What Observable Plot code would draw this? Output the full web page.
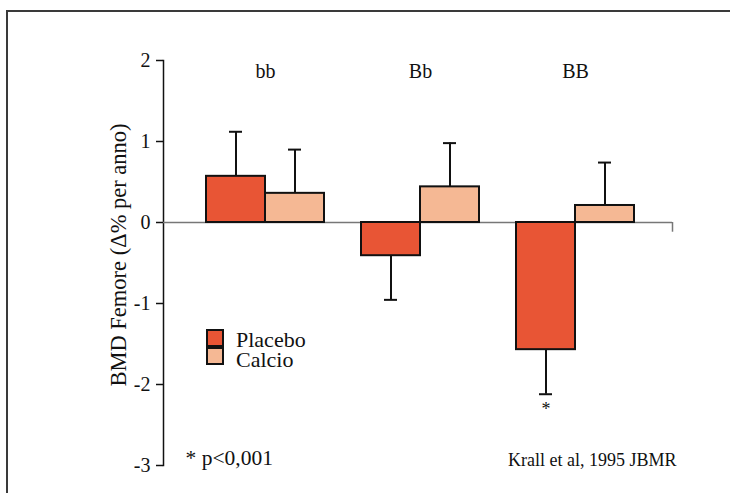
<!DOCTYPE html>
<html><head><meta charset="utf-8">
<script src="https://cdn.jsdelivr.net/npm/d3@7"></script>
<script src="https://cdn.jsdelivr.net/npm/@observablehq/plot@0.6"></script>
<style>
body{margin:0;background:#fff;}
#wrap{position:relative;width:730px;height:493px;overflow:hidden;font-family:"Liberation Serif",serif;color:#111;}
#border{position:absolute;left:6px;top:10px;width:800px;height:600px;border-top:2px solid #3a3a3a;border-left:2px solid #3a3a3a;}
#chart{position:absolute;left:0;top:0;}
#chart svg text{font-family:"Liberation Serif",serif;}
.sw{position:absolute;width:14px;height:14px;border:2px solid #111;}
.lt{position:absolute;font-size:22px;line-height:19px;white-space:nowrap;}
</style></head>
<body><div id="wrap"><div id="border"></div><div id="chart"></div><div id="legend"></div></div>
<script>
const groups = ["bb", "Bb", "BB"];
const series = ["Placebo", "Calcio"];
const placebo = [0.57, -0.41, -1.57];
const placeboErr = [1.12, -0.955, -2.12];
const calcio = [0.36, 0.44, 0.21];
const calcioErr = [0.90, 0.98, 0.74];
const significant = [false, false, true];
const yTicks = [-3, -2, -1, 0, 1, 2];
const colors = ["#e85535", "#f5b894"];
const yLabel = "BMD Femore (\u0394% per anno)";
const noteLeft = "* p<0,001";
const noteRight = "Krall et al, 1995 JBMR";

const P = groups.map((g, i) => ({group: g, value: placebo[i], err: placeboErr[i], sig: significant[i]}));
const C = groups.map((g, i) => ({group: g, value: calcio[i], err: calcioErr[i]}));
const half = 59;
const FF = "Liberation Serif, serif";

const chart = Plot.plot({
  width: 730, height: 493,
  marginLeft: 163, marginRight: 58, marginTop: 60, marginBottom: 28,
  style: {fontFamily: FF, fontSize: "20px", color: "#111", background: "transparent", overflow: "visible"},
  x: {type: "band", domain: groups, paddingInner: 0.2387, paddingOuter: 0.261, align: 0.53, axis: null},
  y: {domain: [-3, 2]},
  marks: [
    Plot.axisY({ticks: yTicks, tickSize: 7, tickPadding: 6, tickFormat: d => String(d), fontSize: 20, fontFamily: FF, label: null, stroke: "#111", strokeWidth: 1.5}),
    Plot.frame({anchor: "left", stroke: "#111", strokeWidth: 1.5}),
    Plot.ruleY([0], {stroke: "#777", strokeWidth: 1.5}),
    Plot.ruleX(["BB"], {y1: 0, y2: -0.12, dx: 97, stroke: "#777", strokeWidth: 1.5}),
    Plot.ruleX(P, {x: "group", y1: "value", y2: "err", dx: -half / 2, stroke: "#111", strokeWidth: 2}),
    Plot.ruleX(C, {x: "group", y1: "value", y2: "err", dx: half / 2, stroke: "#111", strokeWidth: 2}),
    Plot.tickY(P, {x: "group", y: "err", insetLeft: 23, insetRight: 82, stroke: "#111", strokeWidth: 2}),
    Plot.tickY(C, {x: "group", y: "err", insetLeft: 82, insetRight: 23, stroke: "#111", strokeWidth: 2}),
    Plot.barY(P, {x: "group", y: "value", fill: colors[0], stroke: "#111", strokeWidth: 2, insetRight: half}),
    Plot.barY(C, {x: "group", y: "value", fill: colors[1], stroke: "#111", strokeWidth: 2, insetLeft: half}),
    Plot.text(groups, {x: d => d, text: d => d, frameAnchor: "top", lineAnchor: "middle", dy: 11, fontSize: 20, fontFamily: FF}),
    Plot.text(P.filter(d => d.sig), {x: "group", y: "err", text: () => "*", dx: -half / 2, dy: 15, lineAnchor: "middle", fontSize: 18, fontFamily: FF}),
    Plot.text([yLabel], {text: d => d, frameAnchor: "left", textAnchor: "middle", rotate: -90, lineAnchor: "middle", dx: -45, dy: -8, fontSize: 22.5, fontFamily: FF}),
    Plot.text([noteLeft], {text: d => d, frameAnchor: "bottom-left", textAnchor: "start", lineAnchor: "middle", dx: 22, dy: -7, fontSize: 21.5, fontFamily: FF}),
    Plot.text([noteRight], {text: d => d, frameAnchor: "bottom-right", textAnchor: "end", lineAnchor: "middle", dx: 4, dy: -5, fontSize: 18, fontFamily: FF})
  ]
});
document.getElementById("chart").appendChild(chart);

const legend = document.getElementById("legend");
series.forEach((s, i) => {
  const sw = document.createElement("div");
  sw.className = "sw";
  sw.style.left = "206px";
  sw.style.top = (329 + i * 18) + "px";
  sw.style.background = colors[i];
  legend.appendChild(sw);
  const t = document.createElement("div");
  t.className = "lt";
  t.style.left = "236px";
  t.style.top = (330 + i * 19.5) + "px";
  t.textContent = s;
  legend.appendChild(t);
});
</script>
</body></html>
